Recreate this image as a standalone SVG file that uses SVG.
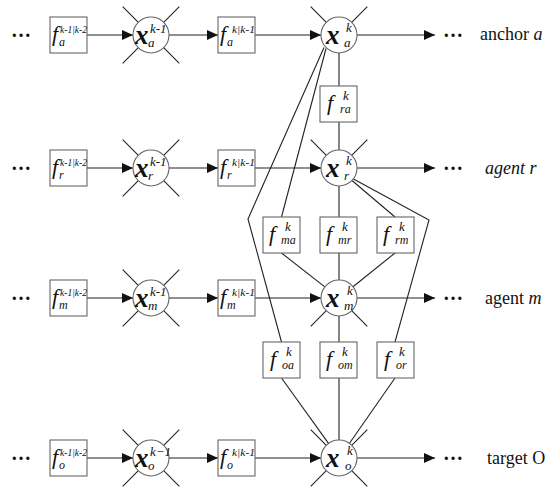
<svg xmlns="http://www.w3.org/2000/svg" width="550" height="497" viewBox="0 0 550 497">
<style>
  .bx{fill:#fff;stroke:#666;stroke-width:1.1}
  .cr{fill:#fff;stroke:#666;stroke-width:1.1}
  .ln{fill:none;stroke:#222;stroke-width:1.1}
  .ar{fill:none;stroke:#222;stroke-width:1.2;marker-end:url(#ah)}
  text{font-family:"Liberation Serif","Times New Roman",serif;fill:#111}
  .f{font-style:italic;font-size:22px}
  .sp{font-style:italic;font-size:11px}
  .sb{font-style:italic;font-size:12px}
  .x{font-style:italic;font-weight:bold;font-size:27px}
  .xs{font-style:italic;font-size:13px}
  .dots{font-weight:bold;font-size:20px}
  .lbl{font-size:18px}
  .it{font-style:italic}
</style>
<defs>
  <marker id="ah" markerUnits="userSpaceOnUse" markerWidth="11" markerHeight="10" refX="11" refY="5" orient="auto">
    <path d="M0,0 L11,5 L0,10 Z" fill="#111"/>
  </marker>
</defs>

<g id="connectors">
  <!-- row a -->
  <line class="ar" x1="87" y1="35" x2="133" y2="35"/>
  <line class="ar" x1="169" y1="35" x2="218" y2="35"/>
  <line class="ar" x1="255" y1="35" x2="321" y2="35"/>
  <line class="ar" x1="357" y1="35" x2="435" y2="35"/>
  <!-- row r -->
  <line class="ar" x1="87" y1="168" x2="133" y2="168"/>
  <line class="ar" x1="169" y1="168" x2="218" y2="168"/>
  <line class="ar" x1="255" y1="168" x2="321" y2="168"/>
  <line class="ar" x1="357" y1="168" x2="435" y2="168"/>
  <!-- row m -->
  <line class="ar" x1="87" y1="298" x2="133" y2="298"/>
  <line class="ar" x1="169" y1="298" x2="218" y2="298"/>
  <line class="ar" x1="255" y1="298" x2="321" y2="298"/>
  <line class="ar" x1="357" y1="298" x2="435" y2="298"/>
  <!-- row o -->
  <line class="ar" x1="87" y1="458" x2="133" y2="458"/>
  <line class="ar" x1="169" y1="458" x2="218" y2="458"/>
  <line class="ar" x1="255" y1="458" x2="321" y2="458"/>
  <line class="ar" x1="357" y1="458" x2="435" y2="458"/>

  <!-- spokes on k-1 nodes -->
  <path class="ln" d="M138.3,22.3 L122.7,6.7 M163.7,22.3 L179.3,6.7 M138.3,47.7 L122.7,63.3 M163.7,47.7 L179.3,63.3"/>
  <path class="ln" d="M138.3,155.3 L122.7,139.7 M163.7,155.3 L179.3,139.7 M138.3,180.7 L122.7,196.3 M163.7,180.7 L179.3,196.3"/>
  <path class="ln" d="M138.3,285.3 L122.7,269.7 M163.7,285.3 L179.3,269.7 M138.3,310.7 L122.7,326.3 M163.7,310.7 L179.3,326.3"/>
  <path class="ln" d="M138.3,445.3 L122.7,429.7 M163.7,445.3 L179.3,429.7 M138.3,470.7 L122.7,486.3 M163.7,470.7 L179.3,486.3"/>
  <!-- spokes on k nodes -->
  <path class="ln" d="M326.3,22.3 L310.7,6.7 M351.7,22.3 L367.3,6.7"/>
  <path class="ln" d="M326.3,155.3 L310.7,139.7 M351.7,155.3 L367.3,139.7"/>
  <path class="ln" d="M326.3,310.7 L310.7,326.3 M351.7,310.7 L367.3,326.3"/>
  <path class="ln" d="M326.3,445.3 L310.7,429.7 M351.7,445.3 L367.3,429.7 M326.3,470.7 L310.7,486.3 M351.7,470.7 L367.3,486.3"/>

  <!-- factor edges -->
  <line class="ln" x1="339" y1="53" x2="339" y2="86"/>
  <line class="ln" x1="339" y1="122" x2="339" y2="150"/>
  <polyline class="ln" points="324,47.5 248,219 281.5,342"/>
  <line class="ln" x1="326" y1="48.5" x2="281.5" y2="217"/>
  <line class="ln" x1="339" y1="186" x2="339" y2="217"/>
  <line class="ln" x1="352" y1="180.5" x2="395" y2="217"/>
  <polyline class="ln" points="353.5,179 429,220 395,342"/>
  <line class="ln" x1="281.5" y1="253" x2="324.8" y2="286.9"/>
  <line class="ln" x1="339" y1="253" x2="339" y2="280"/>
  <line class="ln" x1="395" y1="253" x2="353" y2="286.7"/>
  <line class="ln" x1="339" y1="316" x2="339" y2="342"/>
  <line class="ln" x1="281.5" y1="378" x2="328.5" y2="443.4"/>
  <line class="ln" x1="339" y1="378" x2="339" y2="440"/>
  <line class="ln" x1="395" y1="378" x2="349.5" y2="443.3"/>
</g>

<!-- ===== row a ===== -->
<g id="dots-a-left"><text class="dots" x="11" y="37">…</text></g>
<g id="f-a-prior">
  <rect class="bx" x="50" y="17" width="37" height="36"/>
  <text class="f" x="52" y="41">f</text>
  <text class="sp" x="60" y="33" textLength="27" lengthAdjust="spacingAndGlyphs">k-1|k-2</text>
  <text class="sb" x="59" y="46">a</text>
</g>
<g id="x-a-km1">
  <circle class="cr" cx="151" cy="35" r="18"/>
  <text class="x" x="135" y="44">x</text>
  <text class="xs" x="150" y="33">k-1</text>
  <text class="xs" x="148" y="47">a</text>
</g>
<g id="f-a-pred">
  <rect class="bx" x="218" y="17" width="37" height="36"/>
  <text class="f" x="220" y="41">f</text>
  <text class="sp" x="232" y="33" textLength="23" lengthAdjust="spacingAndGlyphs">k|k-1</text>
  <text class="sb" x="227" y="46">a</text>
</g>
<g id="x-a-k">
  <circle class="cr" cx="339" cy="35" r="18"/>
  <text class="x" x="326" y="44">x</text>
  <text class="xs" x="346" y="32">k</text>
  <text class="xs" x="344" y="47">a</text>
</g>
<g id="dots-a-right"><text class="dots" x="443" y="37">…</text></g>
<g id="label-a"><text class="lbl" x="480" y="40">anchor <tspan class="it">a</tspan></text></g>

<!-- ===== row r ===== -->
<g id="dots-r-left"><text class="dots" x="11" y="170">…</text></g>
<g id="f-r-prior">
  <rect class="bx" x="50" y="150" width="37" height="36"/>
  <text class="f" x="52" y="174">f</text>
  <text class="sp" x="60" y="166" textLength="27" lengthAdjust="spacingAndGlyphs">k-1|k-2</text>
  <text class="sb" x="59" y="179">r</text>
</g>
<g id="x-r-km1">
  <circle class="cr" cx="151" cy="168" r="18"/>
  <text class="x" x="135" y="177">x</text>
  <text class="xs" x="150" y="166">k-1</text>
  <text class="xs" x="148" y="180">r</text>
</g>
<g id="f-r-pred">
  <rect class="bx" x="218" y="150" width="37" height="36"/>
  <text class="f" x="220" y="174">f</text>
  <text class="sp" x="232" y="166" textLength="23" lengthAdjust="spacingAndGlyphs">k|k-1</text>
  <text class="sb" x="227" y="179">r</text>
</g>
<g id="x-r-k">
  <circle class="cr" cx="339" cy="168" r="18"/>
  <text class="x" x="326" y="177">x</text>
  <text class="xs" x="346" y="165">k</text>
  <text class="xs" x="344" y="180">r</text>
</g>
<g id="dots-r-right"><text class="dots" x="443" y="170">…</text></g>
<g id="label-r"><text class="lbl it" x="485" y="174">agent r</text></g>

<!-- ===== row m ===== -->
<g id="dots-m-left"><text class="dots" x="11" y="300">…</text></g>
<g id="f-m-prior">
  <rect class="bx" x="50" y="280" width="37" height="36"/>
  <text class="f" x="52" y="304">f</text>
  <text class="sp" x="60" y="296" textLength="27" lengthAdjust="spacingAndGlyphs">k-1|k-2</text>
  <text class="sb" x="59" y="309">m</text>
</g>
<g id="x-m-km1">
  <circle class="cr" cx="151" cy="298" r="18"/>
  <text class="x" x="135" y="307">x</text>
  <text class="xs" x="150" y="296">k-1</text>
  <text class="xs" x="148" y="310">m</text>
</g>
<g id="f-m-pred">
  <rect class="bx" x="218" y="280" width="37" height="36"/>
  <text class="f" x="220" y="304">f</text>
  <text class="sp" x="232" y="296" textLength="23" lengthAdjust="spacingAndGlyphs">k|k-1</text>
  <text class="sb" x="227" y="309">m</text>
</g>
<g id="x-m-k">
  <circle class="cr" cx="339" cy="298" r="18"/>
  <text class="x" x="326" y="307">x</text>
  <text class="xs" x="347" y="295">k</text>
  <text class="xs" x="344" y="310">m</text>
</g>
<g id="dots-m-right"><text class="dots" x="443" y="300">…</text></g>
<g id="label-m"><text class="lbl" x="485" y="304">agent <tspan class="it">m</tspan></text></g>

<!-- ===== row o ===== -->
<g id="dots-o-left"><text class="dots" x="11" y="460">…</text></g>
<g id="f-o-prior">
  <rect class="bx" x="50" y="440" width="37" height="36"/>
  <text class="f" x="52" y="464">f</text>
  <text class="sp" x="60" y="456" textLength="27" lengthAdjust="spacingAndGlyphs">k-1|k-2</text>
  <text class="sb" x="59" y="469">o</text>
</g>
<g id="x-o-km1">
  <circle class="cr" cx="151" cy="458" r="18"/>
  <text class="x" x="135" y="467">x</text>
  <text class="xs" x="150" y="456">k−1</text>
  <text class="xs" x="148" y="470">o</text>
</g>
<g id="f-o-pred">
  <rect class="bx" x="218" y="440" width="37" height="36"/>
  <text class="f" x="220" y="464">f</text>
  <text class="sp" x="232" y="456" textLength="23" lengthAdjust="spacingAndGlyphs">k|k-1</text>
  <text class="sb" x="227" y="469">o</text>
</g>
<g id="x-o-k">
  <circle class="cr" cx="339" cy="458" r="18"/>
  <text class="x" x="326" y="467">x</text>
  <text class="xs" x="347" y="455">k</text>
  <text class="xs" x="345" y="470">o</text>
</g>
<g id="dots-o-right"><text class="dots" x="443" y="460">…</text></g>
<g id="label-o"><text class="lbl" x="487" y="464">target O</text></g>

<!-- ===== factor nodes ===== -->
<g id="f-ra">
  <rect class="bx" x="320" y="86" width="37" height="36"/>
  <text class="f" x="327" y="110">f</text>
  <text class="xs" x="343" y="100">k</text>
  <text class="sb" x="340" y="113">ra</text>
</g>
<g id="f-ma">
  <rect class="bx" x="263" y="217" width="37" height="36"/>
  <text class="f" x="269" y="241">f</text>
  <text class="xs" x="285" y="231">k</text>
  <text class="sb" x="281" y="244">ma</text>
</g>
<g id="f-mr">
  <rect class="bx" x="320" y="217" width="37" height="36"/>
  <text class="f" x="326" y="241">f</text>
  <text class="xs" x="342" y="231">k</text>
  <text class="sb" x="338" y="244">mr</text>
</g>
<g id="f-rm">
  <rect class="bx" x="377" y="217" width="37" height="36"/>
  <text class="f" x="383" y="241">f</text>
  <text class="xs" x="399" y="231">k</text>
  <text class="sb" x="395" y="244">rm</text>
</g>
<g id="f-oa">
  <rect class="bx" x="263" y="342" width="37" height="36"/>
  <text class="f" x="270" y="366">f</text>
  <text class="xs" x="286" y="356">k</text>
  <text class="sb" x="282" y="369">oa</text>
</g>
<g id="f-om">
  <rect class="bx" x="320" y="342" width="37" height="36"/>
  <text class="f" x="326" y="366">f</text>
  <text class="xs" x="342" y="356">k</text>
  <text class="sb" x="338" y="369">om</text>
</g>
<g id="f-or">
  <rect class="bx" x="377" y="342" width="37" height="36"/>
  <text class="f" x="384" y="366">f</text>
  <text class="xs" x="399" y="356">k</text>
  <text class="sb" x="396" y="369">or</text>
</g>
</svg>
